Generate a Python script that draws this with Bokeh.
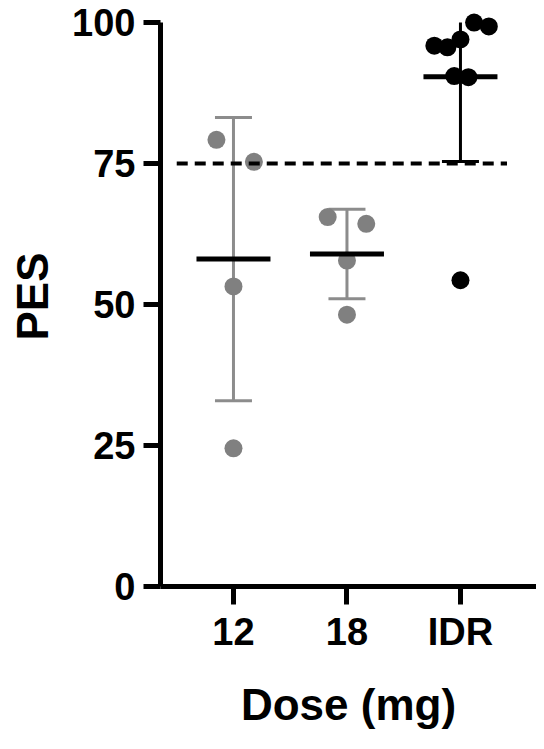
import numpy as np
from bokeh.plotting import figure
from bokeh.models import Range1d, FixedTicker, ColumnDataSource
from bokeh.embed import file_html
from bokeh.resources import INLINE

# ---- data ----
doses = ["12", "18", "IDR"]
pes_12 = [79.2, 75.3, 53.2, 24.5]
pes_18 = [65.5, 64.3, 57.8, 48.2]
pes_idr = [95.9, 95.6, 97.0, 100.0, 99.3, 90.5, 90.3, 54.3]
threshold = 75
y_ticks = [0, 25, 50, 75, 100]
axis_max = 100  # error bars are clipped at the axis maximum

# horizontal scatter offsets of the dots (layout)
jitter_12 = [-0.15, 0.18, 0.0, 0.0]
jitter_18 = [-0.17, 0.17, 0.0, 0.0]
jitter_idr = [-0.23, -0.115, 0.0, 0.12, 0.25, -0.055, 0.07, 0.0]

groups = [pes_12, pes_18, pes_idr]
jitters = [jitter_12, jitter_18, jitter_idr]
dot_colors = ["#808080", "#808080", "#000000"]
bar_colors = ["#8c8c8c", "#8c8c8c", "#000000"]

FONT = "Liberation Sans"

p = figure(width=536, height=733,
           x_range=Range1d(0.357, 3.67), y_range=Range1d(0, 102.84),
           output_backend="svg", toolbar_location=None,
           min_border_left=160, min_border_right=0,
           min_border_top=6, min_border_bottom=147)
p.outline_line_color = None
p.xgrid.visible = False
p.ygrid.visible = False
p.background_fill_color = "white"
p.border_fill_color = "white"

# y axis
ya = p.yaxis[0]
ya.ticker = FixedTicker(ticks=y_ticks)
ya.bounds = (0, axis_max)
ya.axis_line_width = 5
ya.major_tick_line_width = 5
ya.major_tick_out = 17
ya.major_tick_in = 0
ya.minor_tick_line_color = None
ya.major_label_text_font = FONT
ya.major_label_text_font_style = "bold"
ya.major_label_text_font_size = "38px"
ya.major_label_text_color = "black"
ya.major_label_standoff = 8
ya.axis_label = "PES"
ya.axis_label_text_font = FONT
ya.axis_label_text_font_style = "bold"
ya.axis_label_text_font_size = "44px"
ya.axis_label_text_color = "black"
ya.axis_label_standoff = 12

# x axis
xa = p.xaxis[0]
xa.ticker = FixedTicker(ticks=[1, 2, 3])
xa.major_label_overrides = {i + 1: d for i, d in enumerate(doses)}
xa.axis_line_width = 5
xa.major_tick_line_width = 5
xa.major_tick_out = 18
xa.major_tick_in = 0
xa.minor_tick_line_color = None
xa.major_label_text_font = FONT
xa.major_label_text_font_style = "bold"
xa.major_label_text_font_size = "38px"
xa.major_label_text_color = "black"
xa.major_label_standoff = 6
xa.axis_label = "Dose (mg)"
xa.axis_label_text_font = FONT
xa.axis_label_text_font_style = "bold"
xa.axis_label_text_font_size = "44px"
xa.axis_label_text_color = "black"
xa.axis_label_standoff = 24

half_mean = 0.326
half_cap = 0.163

for i, (vals, jit) in enumerate(zip(groups, jitters)):
    xc = i + 1
    arr = np.array(vals)
    m = arr.mean()
    sd = arr.std(ddof=1)
    lo = m - sd
    hi = min(m + sd, axis_max)
    # error bar (mean +/- SD), clipped at the axis maximum
    p.segment(x0=[xc], y0=[lo], x1=[xc], y1=[hi],
              line_color=bar_colors[i], line_width=3)
    caps = [lo] + ([hi] if m + sd <= axis_max else [])
    p.segment(x0=[xc - half_cap] * len(caps), y0=caps,
              x1=[xc + half_cap] * len(caps), y1=caps,
              line_color=bar_colors[i], line_width=3)
    # dots
    src = ColumnDataSource(dict(x=[xc + j for j in jit], y=vals))
    p.scatter("x", "y", source=src, size=18, fill_color=dot_colors[i],
              line_color=None)
    # mean line
    p.segment(x0=[xc - half_mean], y0=[m], x1=[xc + half_mean], y1=[m],
              line_color="black", line_width=5)

# threshold dashed line
p.segment(x0=[0.5], y0=[threshold], x1=[3.41], y1=[threshold],
          line_color="black", line_width=4, line_dash="11 7")

open("out.html", "w").write(file_html(p, INLINE))
